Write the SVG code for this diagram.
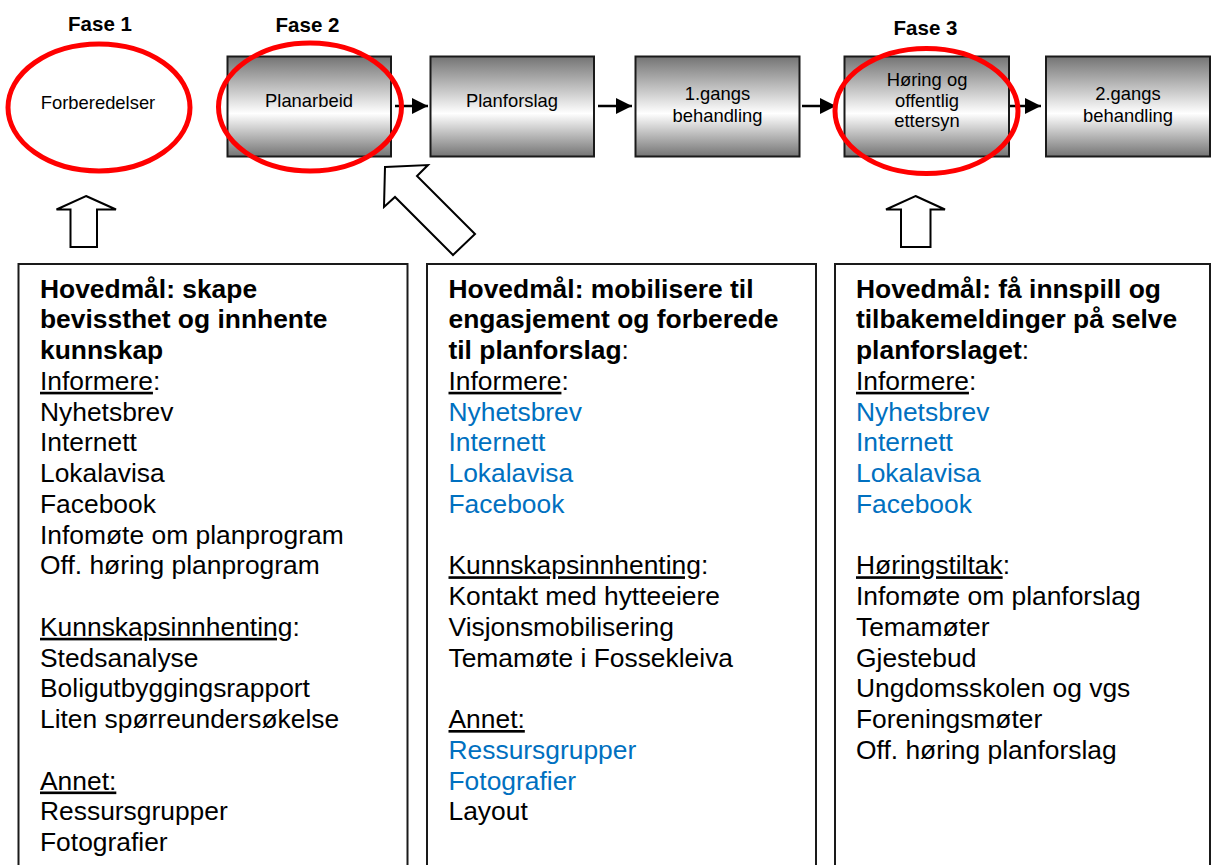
<svg xmlns="http://www.w3.org/2000/svg" width="1211" height="865" viewBox="0 0 1211 865">
<defs>
<linearGradient id="g" x1="0" y1="0" x2="0" y2="1">
<stop offset="0" stop-color="#747474"/>
<stop offset="0.57" stop-color="#ffffff"/>
<stop offset="1" stop-color="#747474"/>
</linearGradient>
<marker id="ah" markerUnits="userSpaceOnUse" markerWidth="18" markerHeight="18" refX="16" refY="8" orient="auto">
<path d="M0,0 L16,8 L0,16 Z" fill="#000"/>
</marker>
<style>
.phase{font-family:"Liberation Sans",Arial,sans-serif;font-weight:bold;font-size:20.5px;fill:#000;text-anchor:middle}
.step rect{fill:url(#g);stroke:#1a1a1a;stroke-width:2}
.lbl{font-family:"Liberation Sans",Arial,sans-serif;font-size:18.4px;fill:#000;text-anchor:middle}
.ring{fill:none;stroke:#ff0000;stroke-width:5}
.conn line{stroke:#000;stroke-width:2.5;marker-end:url(#ah)}
.block{fill:#fff;stroke:#000;stroke-width:2;stroke-linejoin:miter}
.panel rect{fill:#fff;stroke:#1a1a1a;stroke-width:2}
.body{font-family:"Liberation Sans",Arial,sans-serif;font-size:26.4px;fill:#000}
.b{font-weight:bold}
.u{text-decoration:underline}
.blue{fill:#0070c0}
</style>
</defs>
<rect width="1211" height="865" fill="#fff"/>

<g id="phase-labels">
<text class="phase" x="100" y="30.5">Fase 1</text>
<text class="phase" x="307.5" y="32">Fase 2</text>
<text class="phase" x="925.5" y="34.5">Fase 3</text>
</g>

<g id="forberedelser">
<text class="lbl" x="98" y="108.5">Forberedelser</text>
</g>
<g id="planarbeid" class="step">
<rect x="227.5" y="56.5" width="163.5" height="100"/>
<text class="lbl" x="309" y="107">Planarbeid</text>
</g>
<g id="planforslag" class="step">
<rect x="430.5" y="56.5" width="163.5" height="100"/>
<text class="lbl" x="512" y="107">Planforslag</text>
</g>
<g id="gangs1" class="step">
<rect x="635.5" y="56.5" width="164" height="100"/>
<text class="lbl" x="717.5" y="100">1.gangs</text>
<text class="lbl" x="717.5" y="121.5">behandling</text>
</g>
<g id="horing" class="step">
<rect x="844.5" y="56.5" width="164.5" height="100"/>
<text class="lbl" x="927" y="86">Høring og</text>
<text class="lbl" x="927" y="106.5">offentlig</text>
<text class="lbl" x="927" y="127">ettersyn</text>
</g>
<g id="gangs2" class="step">
<rect x="1046" y="56.5" width="164" height="100"/>
<text class="lbl" x="1128" y="100">2.gangs</text>
<text class="lbl" x="1128" y="121.5">behandling</text>
</g>

<g id="connectors" class="conn">
<line x1="395" y1="106" x2="428" y2="106"/>
<line x1="598" y1="106" x2="632" y2="106"/>
<line x1="802" y1="106" x2="836" y2="106"/>
<line x1="1010" y1="106" x2="1041" y2="106"/>
<polygon class="block" points="86,196 116,209.5 97,209.5 97,247 70.5,247 70.5,209.5 56.5,209.5"/>
<polygon class="block" points="915.5,196 945,209.5 930.5,209.5 930.5,247 901,247 901,209.5 886,209.5"/>
<polygon class="block" points="385,167 428,165 417,176 475,234 453,255 395,197 384,207"/>
</g>

<g id="highlights">
<ellipse class="ring" cx="99" cy="107.5" rx="91" ry="63.5"/>
<ellipse class="ring" cx="310" cy="107" rx="91.5" ry="64"/>
<ellipse class="ring" cx="926.5" cy="111" rx="91.5" ry="62.5"/>
</g>

<g id="panel1" class="panel">
<rect x="18.5" y="264" width="389" height="640"/>
<text class="body">
<tspan x="40" y="297.5" class="b">Hovedmål: skape</tspan>
<tspan x="40" y="328.25" class="b">bevissthet og innhente</tspan>
<tspan x="40" y="359" class="b">kunnskap</tspan>
<tspan x="40" y="389.75"><tspan class="u">Informere</tspan>:</tspan>
<tspan x="40" y="420.5">Nyhetsbrev</tspan>
<tspan x="40" y="451.25">Internett</tspan>
<tspan x="40" y="482">Lokalavisa</tspan>
<tspan x="40" y="512.75">Facebook</tspan>
<tspan x="40" y="543.5">Infomøte om planprogram</tspan>
<tspan x="40" y="574.25">Off. høring planprogram</tspan>
<tspan x="40" y="635.75"><tspan class="u">Kunnskapsinnhenting</tspan>:</tspan>
<tspan x="40" y="666.5">Stedsanalyse</tspan>
<tspan x="40" y="697.25">Boligutbyggingsrapport</tspan>
<tspan x="40" y="728">Liten spørreundersøkelse</tspan>
<tspan x="40" y="789.5" class="u">Annet:</tspan>
<tspan x="40" y="820.25">Ressursgrupper</tspan>
<tspan x="40" y="851">Fotografier</tspan>
</text>
</g>

<g id="panel2" class="panel">
<rect x="427" y="264" width="389" height="640"/>
<text class="body">
<tspan x="448.5" y="297.5" class="b">Hovedmål: mobilisere til</tspan>
<tspan x="448.5" y="328.25" class="b">engasjement og forberede</tspan>
<tspan x="448.5" y="359"><tspan class="b">til planforslag</tspan>:</tspan>
<tspan x="448.5" y="389.75"><tspan class="u">Informere</tspan>:</tspan>
<tspan x="448.5" y="420.5" class="blue">Nyhetsbrev</tspan>
<tspan x="448.5" y="451.25" class="blue">Internett</tspan>
<tspan x="448.5" y="482" class="blue">Lokalavisa</tspan>
<tspan x="448.5" y="512.75" class="blue">Facebook</tspan>
<tspan x="448.5" y="574.25"><tspan class="u">Kunnskapsinnhenting</tspan>:</tspan>
<tspan x="448.5" y="605">Kontakt med hytteeiere</tspan>
<tspan x="448.5" y="635.75">Visjonsmobilisering</tspan>
<tspan x="448.5" y="666.5">Temamøte i Fossekleiva</tspan>
<tspan x="448.5" y="728" class="u">Annet:</tspan>
<tspan x="448.5" y="758.75" class="blue">Ressursgrupper</tspan>
<tspan x="448.5" y="789.5" class="blue">Fotografier</tspan>
<tspan x="448.5" y="820.25">Layout</tspan>
</text>
</g>

<g id="panel3" class="panel">
<rect x="835" y="264" width="375" height="640"/>
<text class="body">
<tspan x="856" y="297.5" class="b">Hovedmål: få innspill og</tspan>
<tspan x="856" y="328.25" class="b">tilbakemeldinger på selve</tspan>
<tspan x="856" y="359"><tspan class="b">planforslaget</tspan>:</tspan>
<tspan x="856" y="389.75"><tspan class="u">Informere</tspan>:</tspan>
<tspan x="856" y="420.5" class="blue">Nyhetsbrev</tspan>
<tspan x="856" y="451.25" class="blue">Internett</tspan>
<tspan x="856" y="482" class="blue">Lokalavisa</tspan>
<tspan x="856" y="512.75" class="blue">Facebook</tspan>
<tspan x="856" y="574.25"><tspan class="u">Høringstiltak</tspan>:</tspan>
<tspan x="856" y="605">Infomøte om planforslag</tspan>
<tspan x="856" y="635.75">Temamøter</tspan>
<tspan x="856" y="666.5">Gjestebud</tspan>
<tspan x="856" y="697.25">Ungdomsskolen og vgs</tspan>
<tspan x="856" y="728">Foreningsmøter</tspan>
<tspan x="856" y="758.75">Off. høring planforslag</tspan>
</text>
</g>
</svg>
